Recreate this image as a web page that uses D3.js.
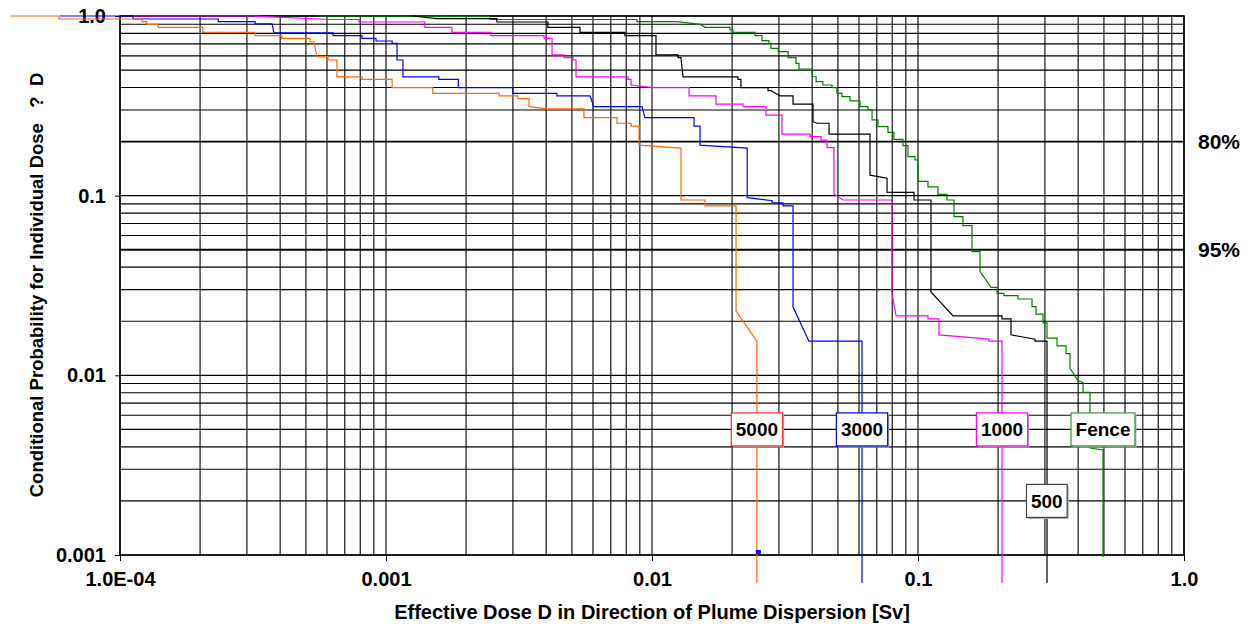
<!DOCTYPE html>
<html>
<head>
<meta charset="utf-8">
<script src="https://cdn.jsdelivr.net/npm/d3@7"></script>
<style>
  body { margin: 0; background: #fff; }
  svg text { font-family: "Liberation Sans", Arial, sans-serif; font-weight: bold; fill: #000; }
</style>
</head>
<body>
<svg id="chart" width="1254" height="628"></svg>
<script>
// complementary dose distributions, [dose Sv, probability]
const s5000 = [[3.86e-5,1.0],[5.90e-5,1.0],[5.90e-5,0.962],[1.21e-4,0.962],[1.21e-4,0.930],[1.26e-4,0.930],[1.26e-4,0.899],[1.39e-4,0.899],[1.39e-4,0.865],[2.05e-4,0.865],[2.05e-4,0.811],[3.22e-4,0.811],[3.22e-4,0.777],[4.06e-4,0.777],[4.06e-4,0.751],[5.18e-4,0.751],[5.18e-4,0.719],[5.36e-4,0.719],[5.50e-4,0.594],[6.05e-4,0.594],[6.05e-4,0.569],[6.54e-4,0.569],[6.54e-4,0.458],[8.12e-4,0.458],[8.12e-4,0.444],[1.054e-3,0.444],[1.054e-3,0.399],[1.50e-3,0.399],[1.50e-3,0.371],[2.66e-3,0.371],[2.66e-3,0.359],[3.13e-3,0.359],[3.13e-3,0.347],[3.45e-3,0.347],[3.45e-3,0.313],[4.03e-3,0.304],[5.55e-3,0.304],[5.55e-3,0.272],[7.39e-3,0.272],[7.39e-3,0.253],[8.34e-3,0.253],[8.34e-3,0.244],[8.94e-3,0.244],[8.94e-3,0.191],[1.285e-2,0.184],[1.285e-2,0.0946],[1.582e-2,0.0946],[1.582e-2,0.0877],[2.07e-2,0.0877],[2.07e-2,0.0228],[2.48e-2,0.0155],[2.48e-2,0.000699]];

const s3000 = [[5.95e-5,1.0],[1.12e-4,1.0],[1.12e-4,0.962],[2.34e-4,0.962],[2.34e-4,0.930],[3.22e-4,0.930],[3.22e-4,0.903],[3.73e-4,0.903],[3.79e-4,0.807],[6.32e-4,0.807],[6.32e-4,0.777],[8.12e-4,0.777],[8.12e-4,0.751],[9.17e-4,0.751],[9.17e-4,0.726],[1.054e-3,0.726],[1.054e-3,0.705],[1.10e-3,0.705],[1.10e-3,0.569],[1.158e-3,0.569],[1.158e-3,0.458],[1.58e-3,0.458],[1.58e-3,0.444],[1.87e-3,0.444],[1.87e-3,0.399],[3.00e-3,0.399],[3.00e-3,0.371],[4.39e-3,0.371],[4.39e-3,0.359],[5.85e-3,0.359],[6.00e-3,0.322],[6.00e-3,0.313],[9.17e-3,0.313],[9.41e-3,0.272],[1.439e-2,0.272],[1.439e-2,0.244],[1.515e-2,0.244],[1.515e-2,0.191],[2.28e-2,0.184],[2.28e-2,0.0975],[2.83e-2,0.0938],[2.83e-2,0.0911],[3.11e-2,0.0911],[3.11e-2,0.0877],[3.39e-2,0.0877],[3.39e-2,0.0240],[3.89e-2,0.0155],[6.16e-2,0.0155],[6.16e-2,0.000699]];

const s1000 = [[1.12e-4,1.0],[3.13e-4,1.0],[6.16e-4,0.956],[7.91e-4,0.956],[7.91e-4,0.926],[1.40e-3,0.926],[1.40e-3,0.865],[1.77e-3,0.865],[1.77e-3,0.811],[2.48e-3,0.811],[2.48e-3,0.777],[3.93e-3,0.777],[3.93e-3,0.751],[4.21e-3,0.751],[4.21e-3,0.607],[4.67e-3,0.607],[4.67e-3,0.586],[5.05e-3,0.586],[5.05e-3,0.569],[5.18e-3,0.569],[5.18e-3,0.458],[8.12e-3,0.458],[8.12e-3,0.444],[8.34e-3,0.444],[8.34e-3,0.413],[1.009e-2,0.399],[1.378e-2,0.399],[1.378e-2,0.359],[1.740e-2,0.359],[1.740e-2,0.323],[2.20e-2,0.323],[2.20e-2,0.313],[2.68e-2,0.313],[2.68e-2,0.281],[3.08e-2,0.281],[3.08e-2,0.220],[3.93e-2,0.220],[3.93e-2,0.213],[4.32e-2,0.213],[4.32e-2,0.204],[4.55e-2,0.204],[4.55e-2,0.185],[4.83e-2,0.185],[4.83e-2,0.1022],[5.22e-2,0.0946],[7.98e-2,0.0946],[7.98e-2,0.0287],[8.27e-2,0.0214],[0.109,0.0214],[0.109,0.0206],[0.1199,0.0206],[0.1199,0.0168],[0.1849,0.0159],[0.1849,0.0155],[0.2069,0.0155],[0.2069,0.000699]];

const s500 = [[1.26e-3,1.0],[1.55e-3,0.966],[2.61e-3,0.966],[2.61e-3,0.926],[4.06e-3,0.926],[4.06e-3,0.865],[5.36e-3,0.865],[5.36e-3,0.811],[7.91e-3,0.811],[7.91e-3,0.777],[1.035e-2,0.777],[1.035e-2,0.607],[1.252e-2,0.607],[1.252e-2,0.586],[1.285e-2,0.586],[1.308e-2,0.458],[2.105e-2,0.458],[2.105e-2,0.444],[2.16e-2,0.444],[2.16e-2,0.399],[2.73e-2,0.399],[2.73e-2,0.384],[2.80e-2,0.384],[3.03e-2,0.359],[3.39e-2,0.359],[3.39e-2,0.323],[4.03e-2,0.323],[4.03e-2,0.258],[4.17e-2,0.253],[4.63e-2,0.253],[4.63e-2,0.220],[6.60e-2,0.220],[6.60e-2,0.130],[7.65e-2,0.125],[7.65e-2,0.1044],[9.66e-2,0.1044],[9.66e-2,0.0946],[0.1119,0.0946],[0.1119,0.0291],[0.1354,0.0214],[0.2069,0.0214],[0.2069,0.0206],[0.2237,0.0206],[0.2237,0.0168],[0.2754,0.0159],[0.2754,0.0155],[0.3055,0.0155],[0.3055,0.000699]];

const sFence = [[5.55e-4,1.0],[2.46e-3,0.994],[2.46e-3,0.956],[8.78e-3,0.956],[8.78e-3,0.930],[1.242e-2,0.930],[1.515e-2,0.899],[1.582e-2,0.865],[1.965e-2,0.865],[1.965e-2,0.836],[2.016e-2,0.836],[2.016e-2,0.811],[2.44e-2,0.811],[2.44e-2,0.777],[2.59e-2,0.777],[2.59e-2,0.729],[2.75e-2,0.729],[2.75e-2,0.705],[2.80e-2,0.705],[2.80e-2,0.661],[2.98e-2,0.661],[2.98e-2,0.633],[3.25e-2,0.633],[3.25e-2,0.586],[3.48e-2,0.586],[3.48e-2,0.545],[3.57e-2,0.545],[3.57e-2,0.507],[4.00e-2,0.507],[4.00e-2,0.459],[4.14e-2,0.459],[4.14e-2,0.431],[4.39e-2,0.431],[4.39e-2,0.413],[4.75e-2,0.413],[4.75e-2,0.399],[4.96e-2,0.399],[4.96e-2,0.371],[5.18e-2,0.371],[5.18e-2,0.356],[5.55e-2,0.356],[5.55e-2,0.337],[6.05e-2,0.337],[6.05e-2,0.313],[6.49e-2,0.313],[6.49e-2,0.300],[6.72e-2,0.300],[6.72e-2,0.264],[7.07e-2,0.264],[7.07e-2,0.242],[7.71e-2,0.242],[7.71e-2,0.225],[8.12e-2,0.225],[8.12e-2,0.206],[8.78e-2,0.206],[8.78e-2,0.190],[9.17e-2,0.190],[9.17e-2,0.165],[9.74e-2,0.165],[9.74e-2,0.158],[0.1000,0.158],[0.1000,0.120],[0.1090,0.120],[0.1090,0.112],[0.1189,0.112],[0.1189,0.1018],[0.1285,0.1018],[0.1285,0.0946],[0.1366,0.0946],[0.1366,0.0764],[0.1476,0.0764],[0.1476,0.0681],[0.1596,0.0681],[0.1596,0.0488],[0.1711,0.0488],[0.1711,0.0378],[0.1881,0.0309],[0.1982,0.0309],[0.1982,0.0286],[0.2105,0.0286],[0.2105,0.0278],[0.2376,0.0278],[0.2376,0.0266],[0.2683,0.0266],[0.2683,0.0241],[0.2778,0.0241],[0.2778,0.0219],[0.2951,0.0219],[0.2951,0.0196],[0.3055,0.0196],[0.3055,0.0161],[0.3332,0.0161],[0.3332,0.0146],[0.3601,0.0146],[0.3601,0.0132],[0.3728,0.0132],[0.3728,0.01095],[0.3996,0.00934],[0.4173,0.00911],[0.4173,0.00805],[0.4432,0.00805],[0.4432,0.00394],[0.4961,0.00384],[0.4961,0.000976]];

const seriesNames = ["Fence", "500", "1000", "3000", "5000"];
const seriesColors = ["#008000", "#000000", "#ff00ff", "#0000ff", "#ff6a00"];
const seriesData = [sFence, s500, s1000, s3000, s5000];

// label boxes
const labelNames = ["5000", "3000", "1000", "Fence", "500"];
const labelDose = [0.0248, 0.0616, 0.207, 0.496, 0.305];
const labelProb = [0.005, 0.005, 0.005, 0.005, 0.002];
const labelBorders = ["#ff3030", "#0000ff", "#ff00ff", "#3a9a3a", "#444444"];

const markerPts = [[0.0251, 0.00104]];

const xTickVals = [1e-4, 1e-3, 1e-2, 1e-1, 1];
const xTickLabels = ["1.0E-04", "0.001", "0.01", "0.1", "1.0"];
const yTickVals = [0.001, 0.01, 0.1, 1];
const yTickLabels = ["0.001", "0.01", "0.1", "1.0"];

const refProb = [0.2, 0.05];
const refLabels = ["80%", "95%"];

const margin = {top: 16, left: 120};
const width = 1064, height = 539;

const svg = d3.select("#chart");

const x = d3.scaleLog().domain([1e-4, 1]).range([margin.left, margin.left + width]);
const y = d3.scaleLog().domain([0.001, 1]).range([margin.top + height, margin.top]);

// grid
const grid = svg.append("g");
grid.selectAll("line.v")
  .data(x.ticks())
  .enter().append("line")
  .attr("x1", d => x(d)).attr("x2", d => x(d))
  .attr("y1", margin.top).attr("y2", margin.top + height)
  .attr("stroke", "#000").attr("stroke-width", 1.1);

grid.selectAll("line.h")
  .data(y.ticks())
  .enter().append("line")
  .attr("x1", margin.left).attr("x2", margin.left + width)
  .attr("y1", d => y(d)).attr("y2", d => y(d))
  .attr("stroke", "#000")
  .attr("stroke-width", d => (refProb.some(r => Math.abs(r - d) < 1e-9) ? 1.8 : 1.1));

// border
svg.append("rect")
  .attr("x", margin.left).attr("y", margin.top)
  .attr("width", width).attr("height", height)
  .attr("fill", "none").attr("stroke", "#000").attr("stroke-width", 1.5);

// axes
const xAxis = svg.append("g")
  .attr("transform", "translate(0," + (margin.top + height) + ")")
  .call(d3.axisBottom(x).tickValues(xTickVals).tickSize(6).tickPadding(11)
    .tickFormat((d, i) => xTickLabels[i]));
xAxis.select(".domain").remove();
xAxis.selectAll("text").attr("font-size", 20).style("font-family", "Liberation Sans, Arial, sans-serif");
xAxis.selectAll("line").attr("stroke", "#000");

const yAxis = svg.append("g")
  .attr("transform", "translate(" + margin.left + ",0)")
  .call(d3.axisLeft(y).tickValues(yTickVals).tickSize(5).tickPadding(9)
    .tickFormat((d, i) => yTickLabels[i]));
yAxis.select(".domain").remove();
yAxis.selectAll("text").attr("font-size", 20).style("font-family", "Liberation Sans, Arial, sans-serif");
yAxis.selectAll("line").attr("stroke", "#000");

// series
const line = d3.line().x(d => x(d[0])).y(d => y(d[1]));
svg.append("g").selectAll("path")
  .data(seriesData)
  .enter().append("path")
  .attr("class", (d, i) => "series s" + seriesNames[i])
  .attr("d", line)
  .attr("fill", "none")
  .attr("stroke", (d, i) => seriesColors[i])
  .attr("stroke-width", 1.2);

svg.append("g").selectAll("rect")
  .data(markerPts)
  .enter().append("rect")
  .attr("x", d => x(d[0]) - 2.5).attr("y", d => y(d[1]) - 2)
  .attr("width", 5).attr("height", 4)
  .attr("fill", "#0000ff");

// reference labels
svg.append("g").selectAll("text")
  .data(refProb)
  .enter().append("text")
  .attr("x", margin.left + width + 14)
  .attr("y", d => y(d))
  .attr("dy", "0.36em")
  .attr("font-size", 21)
  .text((d, i) => refLabels[i]);

// label boxes
const boxes = svg.append("g").selectAll("g")
  .data(labelNames)
  .enter().append("g")
  .attr("transform", (d, i) => "translate(" + x(labelDose[i]) + "," + y(labelProb[i]) + ")");

boxes.each(function (d, i) {
  const g = d3.select(this);
  const shadow = g.append("rect");
  const box = g.append("rect");
  const t = g.append("text")
    .attr("text-anchor", "middle")
    .attr("dy", "0.36em")
    .attr("font-size", 19)
    .text(d);
  const w = t.node().getComputedTextLength() + 9;
  const h = 33;
  shadow.attr("x", -w / 2 + 1.5).attr("y", -h / 2 + 1.5).attr("width", w).attr("height", h)
    .attr("fill", "#aaa");
  box.attr("x", -w / 2).attr("y", -h / 2).attr("width", w).attr("height", h)
    .attr("fill", "#fff").attr("stroke", labelBorders[i]).attr("stroke-width", 1.2);
});

// axis titles
svg.append("text")
  .attr("x", margin.left + width / 2)
  .attr("y", 619)
  .attr("text-anchor", "middle")
  .attr("font-size", 20)
  .text("Effective Dose D in Direction of Plume Dispersion [Sv]");

svg.append("text")
  .attr("transform", "translate(43,285) rotate(-90)")
  .attr("text-anchor", "middle")
  .attr("font-size", 18.5)
  .style("white-space", "pre")
  .text("Conditional Probability for Individual Dose   ?  D");
</script>
</body>
</html>
